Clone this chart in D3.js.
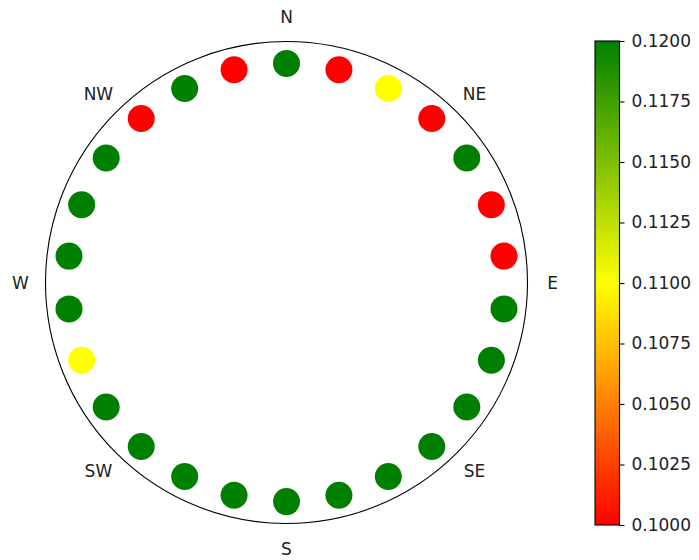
<!DOCTYPE html>
<html>
<head>
<meta charset="utf-8">
<script src="https://cdn.jsdelivr.net/npm/d3@7"></script>
<style>
  html, body { margin: 0; padding: 0; background: #fff; }
  svg { display: block; font-family: "DejaVu Sans", sans-serif; }
</style>
</head>
<body>
<svg id="chart" width="699" height="560"></svg>
<script>
// Values measured at 26 evenly spaced bearings, clockwise from north
const values = [
  0.12, 0.10, 0.11, 0.10, 0.12, 0.10, 0.10, 0.12, 0.12, 0.12, 0.12, 0.12, 0.12,
  0.12, 0.12, 0.12, 0.12, 0.12, 0.11, 0.12, 0.12, 0.12, 0.12, 0.10, 0.12, 0.10
];
const radii = values.map(() => 1.0);
const compassLabels = ["N", "NE", "E", "SE", "S", "SW", "W", "NW"];
const compassAngles = [0, 45, 90, 135, 180, 225, 270, 315];
const colorbarTicks = [0.1000, 0.1025, 0.1050, 0.1075, 0.1100, 0.1125, 0.1150, 0.1175, 0.1200];

const FONT = "17px";
const svg = d3.select("#chart");
const cx = 286.5, cy = 282.5, R = 241;
const rMax = 1.1;

const rScale = d3.scaleLinear().domain([0, rMax]).range([0, R]);
const thetaScale = d3.scaleLinear().domain([0, values.length]).range([0, 2 * Math.PI]);
const color = d3.scaleLinear()
  .domain([0.10, 0.11, 0.12])
  .range(["#ff0000", "#ffff00", "#008000"])
  .interpolate(d3.interpolateRgb)
  .clamp(true);

const g = svg.append("g").attr("transform", `translate(${cx},${cy})`);

// outer frame of the polar axes
g.append("circle")
  .attr("r", rScale(rMax))
  .attr("fill", "none")
  .attr("stroke", "#000")
  .attr("stroke-width", 1.1);

// compass labels
const labelR = 266;
g.selectAll("text.dir")
  .data(compassLabels)
  .join("text")
  .attr("class", "dir")
  .attr("x", (d, i) => labelR * Math.sin(compassAngles[i] * Math.PI / 180))
  .attr("y", (d, i) => -labelR * Math.cos(compassAngles[i] * Math.PI / 180))
  .attr("text-anchor", "middle")
  .attr("dominant-baseline", "central")
  .style("font-size", FONT)
  .attr("fill", "#222")
  .text(d => d);

// scatter points
g.selectAll("circle.pt")
  .data(values)
  .join("circle")
  .attr("class", "pt")
  .attr("cx", (d, i) => rScale(radii[i]) * Math.sin(thetaScale(i)))
  .attr("cy", (d, i) => -rScale(radii[i]) * Math.cos(thetaScale(i)))
  .attr("r", 13.5)
  .attr("fill", d => color(d));

// colorbar
const cbX = 595, cbW = 24.5, cbTop = 41, cbBottom = 525;
const cbScale = d3.scaleLinear().domain([0.10, 0.12]).range([cbBottom, cbTop]);

const defs = svg.append("defs");
const grad = defs.append("linearGradient")
  .attr("id", "cbgrad")
  .attr("x1", 0).attr("y1", 1).attr("x2", 0).attr("y2", 0);
d3.range(0, 1.0001, 0.05).forEach(t => {
  grad.append("stop")
    .attr("offset", t)
    .attr("stop-color", color(0.10 + t * 0.02));
});

svg.append("rect")
  .attr("x", cbX).attr("y", cbTop)
  .attr("width", cbW).attr("height", cbBottom - cbTop)
  .attr("fill", "url(#cbgrad)");

const cbAxis = d3.axisRight(cbScale)
  .tickValues(colorbarTicks)
  .tickFormat(d3.format(".4f"))
  .tickSizeOuter(0)
  .tickSizeInner(5)
  .tickPadding(7);

const axisG = svg.append("g")
  .attr("transform", `translate(${cbX + cbW},0)`)
  .call(cbAxis);
axisG.attr("font-size", null).attr("font-family", null);
axisG.select(".domain").remove();
axisG.selectAll("line").attr("stroke", "#000").attr("stroke-width", 1.1);
axisG.selectAll("text")
  .style("font-size", FONT)
  .style("font-family", "DejaVu Sans, sans-serif")
  .attr("fill", "#222");

svg.append("rect")
  .attr("x", cbX).attr("y", cbTop)
  .attr("width", cbW).attr("height", cbBottom - cbTop)
  .attr("fill", "none")
  .attr("stroke", "#000")
  .attr("stroke-width", 1.1);
</script>
</body>
</html>
